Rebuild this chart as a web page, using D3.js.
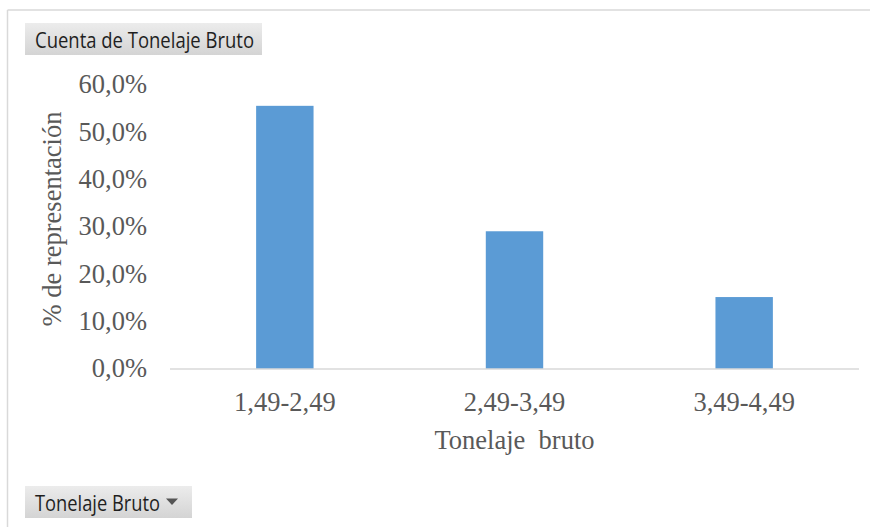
<!DOCTYPE html>
<html>
<head>
<meta charset="utf-8">
<script src="https://cdn.jsdelivr.net/npm/d3@7"></script>
<style>
  html, body { margin: 0; padding: 0; background: #fff; }
  svg { display: block; }
</style>
</head>
<body>
<svg id="chart" width="870" height="527"></svg>
<script>
// Share of vessels by gross tonnage range
const categories = ["1,49-2,49", "2,49-3,49", "3,49-4,49"];
const shares = [0.556, 0.291, 0.152];
const yTicks = [0, 0.1, 0.2, 0.3, 0.4, 0.5, 0.6];
const yTitle = "% de representación";
const xTitle = "Tonelaje\u00a0 bruto";
const valueButton = "Cuenta de Tonelaje Bruto";
const fieldButton = "Tonelaje Bruto";

const svg = d3.select("#chart");
const W = 870, H = 527;
const plot = { left: 170, right: 859, top: 85, bottom: 369 };

const es = d3.formatLocale({ decimal: ",", thousands: ".", grouping: [3], currency: ["", "€"] });
const pct = es.format(".1%");

const x = d3.scaleBand()
  .domain(categories)
  .range([plot.left, plot.right])
  .paddingInner(0.75)
  .paddingOuter(0.375);

const y = d3.scaleLinear()
  .domain([0, 0.6])
  .range([plot.bottom, plot.top]);

// Chart area frame (top and left edges)
svg.append("line")
  .attr("x1", 7.5).attr("x2", W).attr("y1", 10).attr("y2", 10)
  .attr("stroke", "#d9d9d9").attr("stroke-width", 1.5);
svg.append("line")
  .attr("x1", 7.5).attr("x2", 7.5).attr("y1", 10).attr("y2", H)
  .attr("stroke", "#d9d9d9").attr("stroke-width", 1.5);

// Bars
svg.append("g")
  .selectAll("rect")
  .data(categories.map((c, i) => ({ c, v: shares[i] })))
  .join("rect")
  .attr("x", d => x(d.c))
  .attr("width", x.bandwidth())
  .attr("y", d => y(d.v))
  .attr("height", d => y(0) - y(d.v))
  .attr("fill", "#5b9bd5");

// Y axis: labels only
const yAxis = d3.axisLeft(y).tickValues(yTicks).tickFormat(pct).tickSize(0).tickPadding(0);
const gy = svg.append("g")
  .attr("transform", `translate(${147},0)`)
  .call(yAxis);
gy.select(".domain").remove();
gy.selectAll("text")
  .attr("font-family", "'Liberation Serif', 'Times New Roman', serif")
  .attr("font-size", 26.5)
  .attr("fill", "#595959")
  .attr("dy", "0.3em");

// X axis: baseline and category labels
const xAxis = d3.axisBottom(x).tickSize(0).tickPadding(0);
const gx = svg.append("g")
  .attr("transform", `translate(0,${plot.bottom})`)
  .call(xAxis);
gx.select(".domain")
  .attr("stroke", "#d9d9d9")
  .attr("stroke-width", 1.5)
  .attr("d", `M${plot.left},0H${plot.right}`);
gx.selectAll("text")
  .attr("font-family", "'Liberation Serif', 'Times New Roman', serif")
  .attr("font-size", 26.5)
  .attr("fill", "#595959")
  .attr("dy", null)
  .attr("y", 42);

// Axis titles
svg.append("text")
  .attr("x", (plot.left + plot.right) / 2)
  .attr("y", 449)
  .attr("text-anchor", "middle")
  .attr("font-family", "'Liberation Serif', 'Times New Roman', serif")
  .attr("font-size", 26.5)
  .attr("fill", "#595959")
  .text(xTitle);

svg.append("text")
  .attr("transform", `translate(61,${219}) rotate(-90)`)
  .attr("text-anchor", "middle")
  .attr("font-family", "'Liberation Serif', 'Times New Roman', serif")
  .attr("font-size", 26.5)
  .attr("fill", "#595959")
  .text(yTitle);

// Pivot field buttons
const defs = svg.append("defs");
const grad = defs.append("linearGradient")
  .attr("id", "btnGrad").attr("x1", 0).attr("x2", 0).attr("y1", 0).attr("y2", 1);
grad.append("stop").attr("offset", "0%").attr("stop-color", "#ececec");
grad.append("stop").attr("offset", "100%").attr("stop-color", "#d4d4d4");

function button(bx, by, bw, bh, label, textW, arrow) {
  const g = svg.append("g");
  g.append("rect")
    .attr("x", bx).attr("y", by).attr("width", bw).attr("height", bh)
    .attr("fill", "url(#btnGrad)");
  g.append("text")
    .attr("x", bx + 10).attr("y", by + 25)
    .attr("font-family", "'Open Sans', 'Noto Sans', sans-serif")
    .attr("font-size", 21.5)
    .attr("fill", "#1f1f1f")
    .attr("textLength", textW)
    .attr("lengthAdjust", "spacingAndGlyphs")
    .text(label);
  if (arrow) {
    const ax = bx + bw - 20, ay = by + bh / 2 - 1;
    g.append("path")
      .attr("d", `M${ax - 6},${ay - 2.5}L${ax + 6},${ay - 2.5}L${ax},${ay + 4}Z`)
      .attr("fill", "#555");
  }
}
button(25, 23, 237, 32, valueButton, 219, false);
button(25, 486, 167, 32, fieldButton, 125, true);
</script>
</body>
</html>
